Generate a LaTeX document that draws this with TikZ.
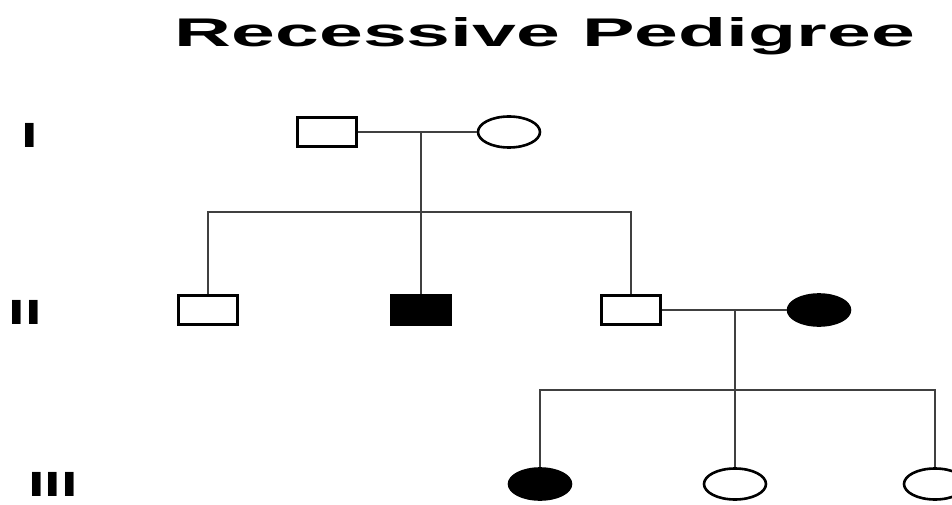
\documentclass[tikz,border=0pt]{standalone}
\usepackage{fontspec}
\setmainfont{Liberation Sans}
\usepackage{graphicx}
\usetikzlibrary{shapes.geometric}
\begin{document}
\begin{tikzpicture}[x=1pt,y=-1pt,
  male/.style={draw=black,line width=2.8pt,rectangle,minimum width=59pt,minimum height=29pt,inner sep=0pt},
  female/.style={draw=black,line width=2.6pt,ellipse,minimum width=62pt,minimum height=31pt,inner sep=0pt},
  aff/.style={fill=black},
  unaff/.style={fill=white},
  link/.style={line width=2.8pt,draw=black!75},
  gen/.style={font=\bfseries\fontsize{35}{35}\selectfont,inner sep=0pt},
  ttl/.style={font=\bfseries\fontsize{40}{40}\selectfont,inner sep=0pt}
]
\useasboundingbox (0,0) rectangle (952,505);
% title
\node[ttl,anchor=base] (title) at (545,47) {\scalebox{1.97}[1]{Recessive Pedigree}};
% generation labels
\node[gen] (gI) at (30,135) {\scalebox{1.7}[1]{I}};
\node[gen] (gII) at (25,312) {\scalebox{1.7}[1]{II}};
\node[gen] (gIII) at (53,484) {\scalebox{1.7}[1]{III}};
% generation I
\node[male,unaff] (m1) at (327,132) {};
\node[female,unaff] (f1) at (509,132) {};
% generation II
\node[male,unaff] (a2) at (208,310) {};
\node[male,aff] (b2) at (421,310) {};
\node[male,unaff] (c2) at (631,310) {};
\node[female,aff] (d2) at (819,310) {};
% generation III
\node[female,aff] (a3) at (540,484) {};
\node[female,unaff] (b3) at (735,484) {};
\node[female,unaff] (c3) at (935,484) {};
% connectors
\coordinate (c1) at (421,132);
\coordinate (s1) at (421,212);
\coordinate (c2m) at (735,310);
\coordinate (s2) at (735,390);
\draw[link] (m1.east) -- (f1.west);
\draw[link] (c1) -- (b2.north);
\draw[link] (a2.north) |- (s1) -| (c2.north);
\draw[link] (c2.east) -- (d2.west);
\draw[link] (c2m) -- (b3.north);
\draw[link] (a3.north) |- (s2) -| (c3.north);
\end{tikzpicture}
\end{document}
